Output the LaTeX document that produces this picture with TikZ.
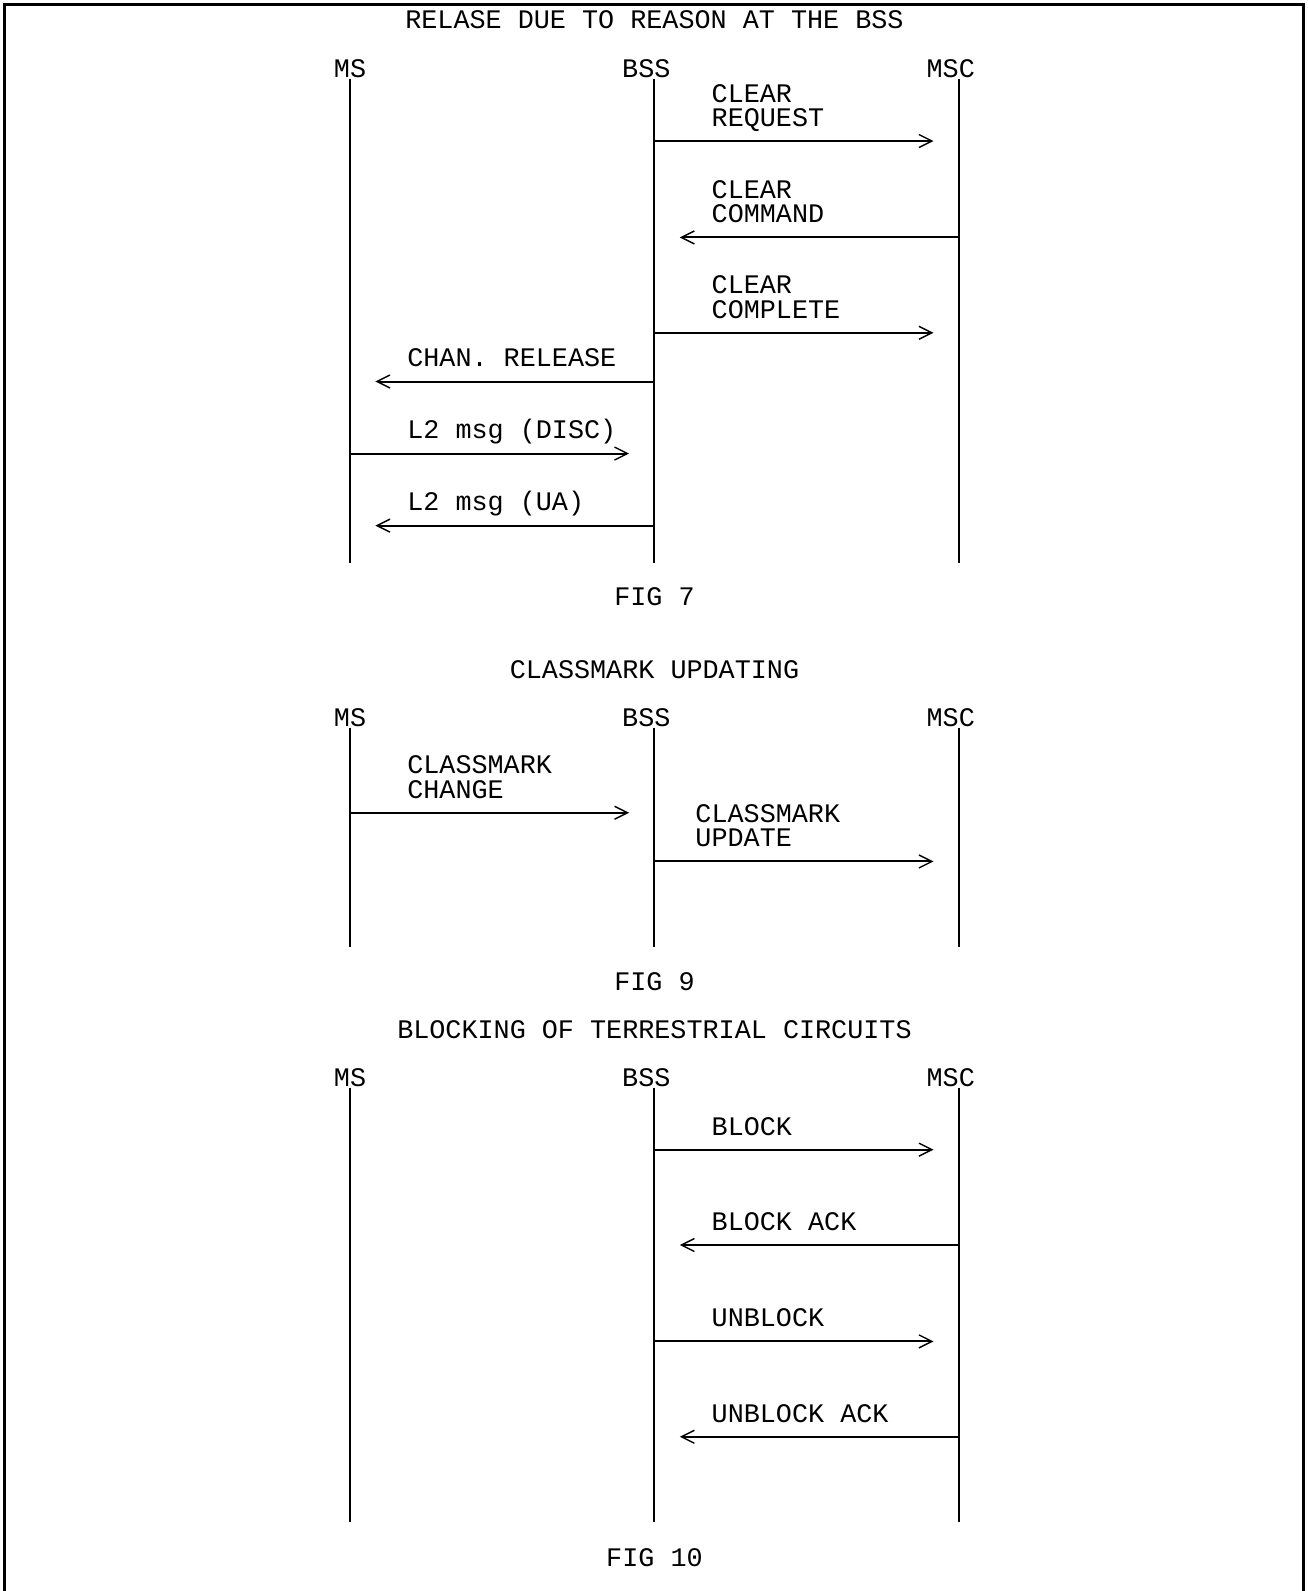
\documentclass[tikz,border=0pt]{standalone}
\usepackage{fontspec}
\setmonofont{Liberation Mono}
\usetikzlibrary{arrows.meta,calc}
\frenchspacing

\begin{document}
\begin{tikzpicture}
  [
    x=0.5pt, y=-0.5pt,
    every node/.style =
      {font=\ttfamily\fontsize{13.2pt}{12pt}\selectfont, inner sep=0pt},
    title/.style =
      {anchor=base},
    head/.style =
      {anchor=base},
    msg/.style =
      {align=left, anchor=south west, text depth=0pt},
    life/.style =
      {line width=1pt},
    marrow/.style =
      {line width=1pt, -{Straight Barb[length=6.4pt, width=6.4pt, line width=0.7pt 0]}, shorten >=12.5pt}
  ]

\useasboundingbox (0,0) rectangle (1289,1568);
\draw [line width=1.5pt] (4,1568) -- (4,4) -- (1285,4) -- (1285,1568);

% fig 7
\node[title] (t7) at (645,28) {RELASE DUE TO REASON AT THE BSS};

\coordinate (ms7) at (345,78);
\coordinate (bss7) at (645,78);
\coordinate (msc7) at (945,78);
\node[head] (ms7h) at ($(ms7)+(0,-2)$) {MS};
\node[head] (bss7h) at ($(bss7)+(-8,-2)$) {BSS};
\node[head] (msc7h) at ($(msc7)+(-8,-2)$) {MSC};
\draw [life] (ms7) -- ++(0,477);
\draw [life] (bss7) -- ++(0,477);
\draw [life] (msc7) -- ++(0,477);

\draw [marrow] ($(bss7)+(0,61)$) -- ($(msc7)+(0,61)$);
\node[msg] (req) at ($(bss7)+(56,47)$) {CLEAR\\REQUEST};
\draw [marrow] ($(msc7)+(0,156)$) -- ($(bss7)+(0,156)$);
\node[msg] (cmd) at ($(bss7)+(56,142)$) {CLEAR\\COMMAND};
\draw [marrow] ($(bss7)+(0,250)$) -- ($(msc7)+(0,250)$);
\node[msg] (cmp) at ($(bss7)+(56,236)$) {CLEAR\\COMPLETE};
\draw [marrow] ($(bss7)+(0,298)$) -- ($(ms7)+(0,298)$);
\node[msg] (rel) at ($(ms7)+(56,284)$) {CHAN. RELEASE};
\draw [marrow] ($(ms7)+(0,369)$) -- ($(bss7)+(0,369)$);
\node[msg] (disc) at ($(ms7)+(56,355)$) {L2 msg (DISC)};
\draw [marrow] ($(bss7)+(0,440)$) -- ($(ms7)+(0,440)$);
\node[msg] (ua) at ($(ms7)+(56,426)$) {L2 msg (UA)};

\node[title] (f7) at (645,597) {FIG 7};

% fig 9
\node[title] (t9) at (645,669) {CLASSMARK UPDATING};

\coordinate (ms9) at (345,717);
\coordinate (bss9) at (645,717);
\coordinate (msc9) at (945,717);
\node[head] (ms9h) at ($(ms9)+(0,-1)$) {MS};
\node[head] (bss9h) at ($(bss9)+(-8,-1)$) {BSS};
\node[head] (msc9h) at ($(msc9)+(-8,-1)$) {MSC};
\draw [life] (ms9) -- ++(0,216);
\draw [life] (bss9) -- ++(0,216);
\draw [life] (msc9) -- ++(0,216);

\draw [marrow] ($(ms9)+(0,84)$) -- ($(bss9)+(0,84)$);
\node[msg] (chg) at ($(ms9)+(56,70)$) {CLASSMARK\\CHANGE};
\draw [marrow] ($(bss9)+(0,132)$) -- ($(msc9)+(0,132)$);
\node[msg] (upd) at ($(bss9)+(40,118)$) {CLASSMARK\\UPDATE};

\node[title] (f9) at (645,976) {FIG 9};

% fig 10
\node[title] (t10) at (645,1023) {BLOCKING OF TERRESTRIAL CIRCUITS};

\coordinate (ms10) at (345,1072);
\coordinate (bss10) at (645,1072);
\coordinate (msc10) at (945,1072);
\node[head] (ms10h) at ($(ms10)+(0,-1)$) {MS};
\node[head] (bss10h) at ($(bss10)+(-8,-1)$) {BSS};
\node[head] (msc10h) at ($(msc10)+(-8,-1)$) {MSC};
\draw [life] (ms10) -- ++(0,428);
\draw [life] (bss10) -- ++(0,428);
\draw [life] (msc10) -- ++(0,428);

\draw [marrow] ($(bss10)+(0,61)$) -- ($(msc10)+(0,61)$);
\node[msg] (blk) at ($(bss10)+(56,47)$) {BLOCK};
\draw [marrow] ($(msc10)+(0,155)$) -- ($(bss10)+(0,155)$);
\node[msg] (blka) at ($(bss10)+(56,141)$) {BLOCK ACK};
\draw [marrow] ($(bss10)+(0,250)$) -- ($(msc10)+(0,250)$);
\node[msg] (ublk) at ($(bss10)+(56,236)$) {UNBLOCK};
\draw [marrow] ($(msc10)+(0,344)$) -- ($(bss10)+(0,344)$);
\node[msg] (ublka) at ($(bss10)+(56,330)$) {UNBLOCK ACK};

\node[title] (f10) at (645,1544) {FIG 10};
\end{tikzpicture}
\end{document}
